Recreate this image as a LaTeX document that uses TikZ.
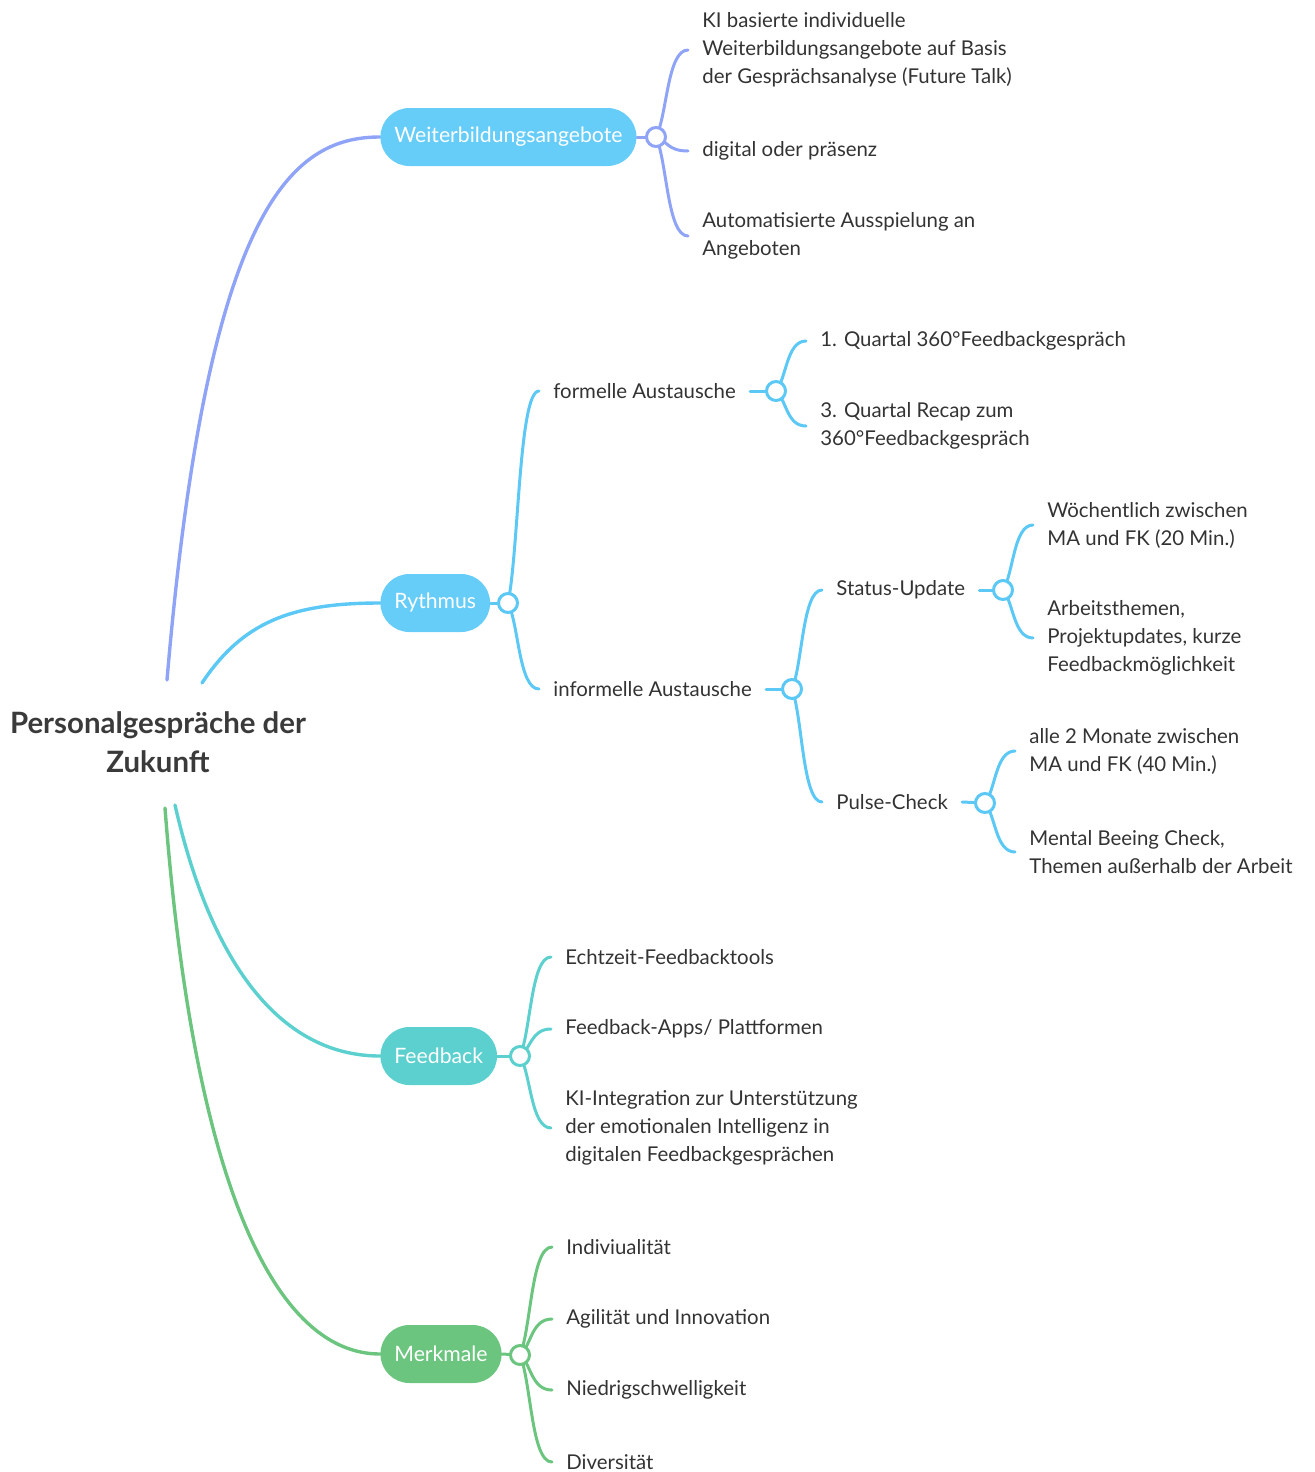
\documentclass[tikz,border=0pt]{standalone}
\usepackage{fontspec}
\setmainfont{Lato}
\usetikzlibrary{calc}
\definecolor{wbline}{HTML}{8FA4F6}
\definecolor{wbfill}{HTML}{66CCF8}
\definecolor{ryline}{HTML}{5CC8F5}
\definecolor{ryfill}{HTML}{66CCF8}
\definecolor{fbcol}{HTML}{5CCFCF}
\definecolor{mkcol}{HTML}{6CC57F}
\definecolor{txt}{HTML}{333333}
\definecolor{roottxt}{HTML}{3A3A3A}
\pgfdeclarelayer{bg}
\pgfsetlayers{bg,main}
\tikzset{
  leaf/.style={anchor=west, inner xsep=7pt, inner ysep=0pt, align=left, text=txt,
    font=\fontsize{10.2}{14}\selectfont},
  pill/.style={anchor=west, rounded corners=14.5pt, minimum height=29pt, inner xsep=7pt,
    text=white, font=\fontsize{10.6}{14}\selectfont},
  knob/.style={circle, minimum size=9.5pt, inner sep=0pt, line width=1.5pt, fill=white, draw=#1},
  branch/.style={line width=1.5pt, line cap=round, draw=#1,
    to path={let \p1=(\tikztostart), \p2=(\tikztotarget),
      \p3=($(\tikztostart)!0.35!(\tikztotarget)$),
      \p4=($(\tikztostart)!0.25!(\tikztotarget)$) in
      .. controls (\x3,\y4) and (\x3,\y2) .. (\tikztotarget)}},
  trunk/.style={line width=1.7pt, line cap=round, draw=#1},
  link/.style={line width=1.5pt, line cap=round, draw=#1}
}
\begin{document}
\begin{tikzpicture}[x=0.5pt,y=-0.5pt]
\useasboundingbox (0,0) rectangle (1314,1472);

% root
\node[align=center, text=roottxt, font=\fontsize{14.7}{19.5}\selectfont\bfseries] (root) at (158,742)
  {Personalgespräche der\\Zukunft};
\coordinate (s1) at (167,680);
\coordinate (s2) at (202,683);
\coordinate (s3) at (175,805);
\coordinate (s4) at (165,808);

% main nodes
\node[pill, fill=wbfill] (wb) at (380,137) {Weiterbildungsangebote};
\node[pill, fill=ryfill] (ry) at (380,603) {Rythmus};
\node[pill, fill=fbcol] (fb) at (380,1056) {Feedback};
\node[pill, fill=mkcol] (mk) at (380,1354) {Merkmale};

% Weiterbildung children
\node[leaf] (w1) at (688,50) {KI basierte individuelle\\Weiterbildungsangebote auf Basis\\der Gesprächsanalyse (Future Talk)};
\node[leaf] (w2) at (688,151) {digital oder präsenz};
\node[leaf] (w3) at (688,236) {Automatisierte Ausspielung an\\Angeboten};

% Rythmus children
\node[leaf] (r1) at (539,391) {formelle Austausche};
\node[leaf] (r2) at (539,689) {informelle Austausche};
\node[leaf] (r11) at (806,341) {1. Quartal 360°Feedbackgespräch};
\node[leaf] (r12) at (806,426) {3. Quartal Recap zum\\360°Feedbackgespräch};
\node[leaf] (r21) at (822,590) {Status-Update};
\node[leaf] (r22) at (822,802) {Pulse-Check};
\node[leaf] (r211) at (1033,525) {Wöchentlich zwischen\\MA und FK (20 Min.)};
\node[leaf] (r212) at (1033,638) {Arbeitsthemen,\\Projektupdates, kurze\\Feedbackmöglichkeit};
\node[leaf] (r221) at (1015,751) {alle 2 Monate zwischen\\MA und FK (40 Min.)};
\node[leaf] (r222) at (1015,852) {Mental Beeing Check,\\Themen außerhalb der Arbeit};

% Feedback children
\node[leaf] (f1) at (551,957) {Echtzeit-Feedbacktools};
\node[leaf] (f2) at (551,1029) {Feedback-Apps/ Plattformen};
\node[leaf] (f3) at (551,1128) {KI-Integration zur Unterstützung\\der emotionalen Intelligenz in\\digitalen Feedbackgesprächen};

% Merkmale children
\node[leaf] (m1) at (552,1247) {Indiviualität};
\node[leaf] (m2) at (552,1319) {Agilität und Innovation};
\node[leaf] (m3) at (552,1390) {Niedrigschwelligkeit};
\node[leaf] (m4) at (552,1462) {Diversität};

% knobs
\node[knob=wbline] (c1) at (656,137) {};
\node[knob=ryline] (c2) at (508,603) {};
\node[knob=ryline] (c3) at (776,391) {};
\node[knob=ryline] (c4) at (792,689) {};
\node[knob=ryline] (c5) at (1003,590) {};
\node[knob=ryline] (c6) at (985,803) {};
\node[knob=fbcol] (c7) at (520,1056) {};
\node[knob=mkcol] (c8) at (520,1355) {};

\begin{pgfonlayer}{bg}
% trunks from root
\draw[trunk=wbline] (s1) .. controls +(40,-470) and +(-90,0) .. (wb.west);
\draw[trunk=ryline] (s2) .. controls +(40,-60) and +(-90,0) .. (ry.west);
\draw[trunk=fbcol] (s3) .. controls +(40,175) and +(-90,0) .. (fb.west);
\draw[trunk=mkcol] (s4) .. controls +(30,392) and +(-100,0) .. (mk.west);

% pill to knob
\draw[link=wbline] (wb.east) -- (c1.center);
\draw[link=ryline] (ry.east) -- (c2.center);
\draw[link=fbcol] (fb.east) -- (c7.center);
\draw[link=mkcol] (mk.east) -- (c8.center);
\draw[link=ryline] (r1.east) -- (c3.center);
\draw[link=ryline] (r2.east) -- (c4.center);
\draw[link=ryline] (r21.east) -- (c5.center);
\draw[link=ryline] (r22.east) -- (c6.center);

% branches
\draw[branch=wbline] (c1.center) to (w1.west);
\draw[branch=wbline] (c1.center) to (w2.west);
\draw[branch=wbline] (c1.center) to (w3.west);
\draw[branch=ryline] (c2.center) to (r1.west);
\draw[branch=ryline] (c2.center) to (r2.west);
\draw[branch=ryline] (c3.center) to (r11.west);
\draw[branch=ryline] (c3.center) to (r12.west);
\draw[branch=ryline] (c4.center) to (r21.west);
\draw[branch=ryline] (c4.center) to (r22.west);
\draw[branch=ryline] (c5.center) to (r211.west);
\draw[branch=ryline] (c5.center) to (r212.west);
\draw[branch=ryline] (c6.center) to (r221.west);
\draw[branch=ryline] (c6.center) to (r222.west);
\draw[branch=fbcol] (c7.center) to (f1.west);
\draw[branch=fbcol] (c7.center) to (f2.west);
\draw[branch=fbcol] (c7.center) to (f3.west);
\draw[branch=mkcol] (c8.center) to (m1.west);
\draw[branch=mkcol] (c8.center) to (m2.west);
\draw[branch=mkcol] (c8.center) to (m3.west);
\draw[branch=mkcol] (c8.center) to (m4.west);
\end{pgfonlayer}
\end{tikzpicture}
\end{document}
